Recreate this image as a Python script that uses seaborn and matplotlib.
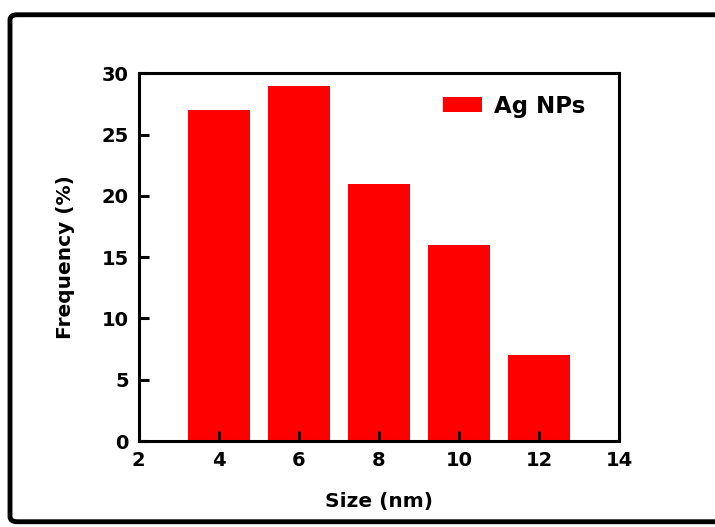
import matplotlib
matplotlib.use("Agg")
import matplotlib.pyplot as plt
import seaborn as sns
from matplotlib.patches import FancyBboxPatch

# data
sizes = [4, 6, 8, 10, 12]
freq = [27, 29, 21, 16, 7]
x_ticks = [2, 4, 6, 8, 10, 12, 14]
y_ticks = [0, 5, 10, 15, 20, 25, 30]

sns.set_style('white')
plt.rcParams['font.family'] = ['DejaVu Sans']
plt.rcParams['font.weight'] = 'bold'
plt.rcParams['text.color'] = 'black'
plt.rcParams['axes.labelcolor'] = 'black'
plt.rcParams['xtick.color'] = 'black'
plt.rcParams['ytick.color'] = 'black'

fig = plt.figure(figsize=(7.15, 5.27), dpi=100)
ax = fig.add_axes([0.194, 0.163, 0.672, 0.698])

sns.barplot(x=sizes, y=freq, native_scale=True, width=0.78,
            color='#ff0000', saturation=1, linewidth=0, label='Ag NPs', ax=ax)

ax.set_xlim(2, 14)
ax.set_ylim(0, 30)
ax.set_xticks(x_ticks)
ax.set_yticks(y_ticks)
ax.set_axisbelow(False)
ax.tick_params(bottom=True, left=True, direction='in', length=7, width=2.2,
               labelsize=14, pad=7, color='black', labelcolor='black')
for lab in ax.get_xticklabels() + ax.get_yticklabels():
    lab.set_fontweight('bold')
for s in ax.spines.values():
    s.set_linewidth(2.2)
    s.set_color('black')
    s.set_zorder(5)

ax.set_xlabel('Size (nm)', fontsize=14.5, fontweight='bold', labelpad=16)
ax.set_ylabel('Frequency (%)', fontsize=14.5, fontweight='bold', labelpad=19)

ax.legend(loc='upper right', bbox_to_anchor=(0.962, 0.985), frameon=False,
          prop={'size': 16.5, 'weight': 'bold'},
          handlelength=1.7, handleheight=0.6, handletextpad=0.5,
          borderaxespad=0.3)

# outer frame around the figure
frame = FancyBboxPatch((0.014, 0.01), 1.2, 0.962, boxstyle='round,pad=0,rounding_size=0.01',
                       transform=fig.transFigure, fill=False, edgecolor='black',
                       linewidth=3.5, clip_on=False)
fig.patches.append(frame)

fig.savefig('out.png', dpi=100)
